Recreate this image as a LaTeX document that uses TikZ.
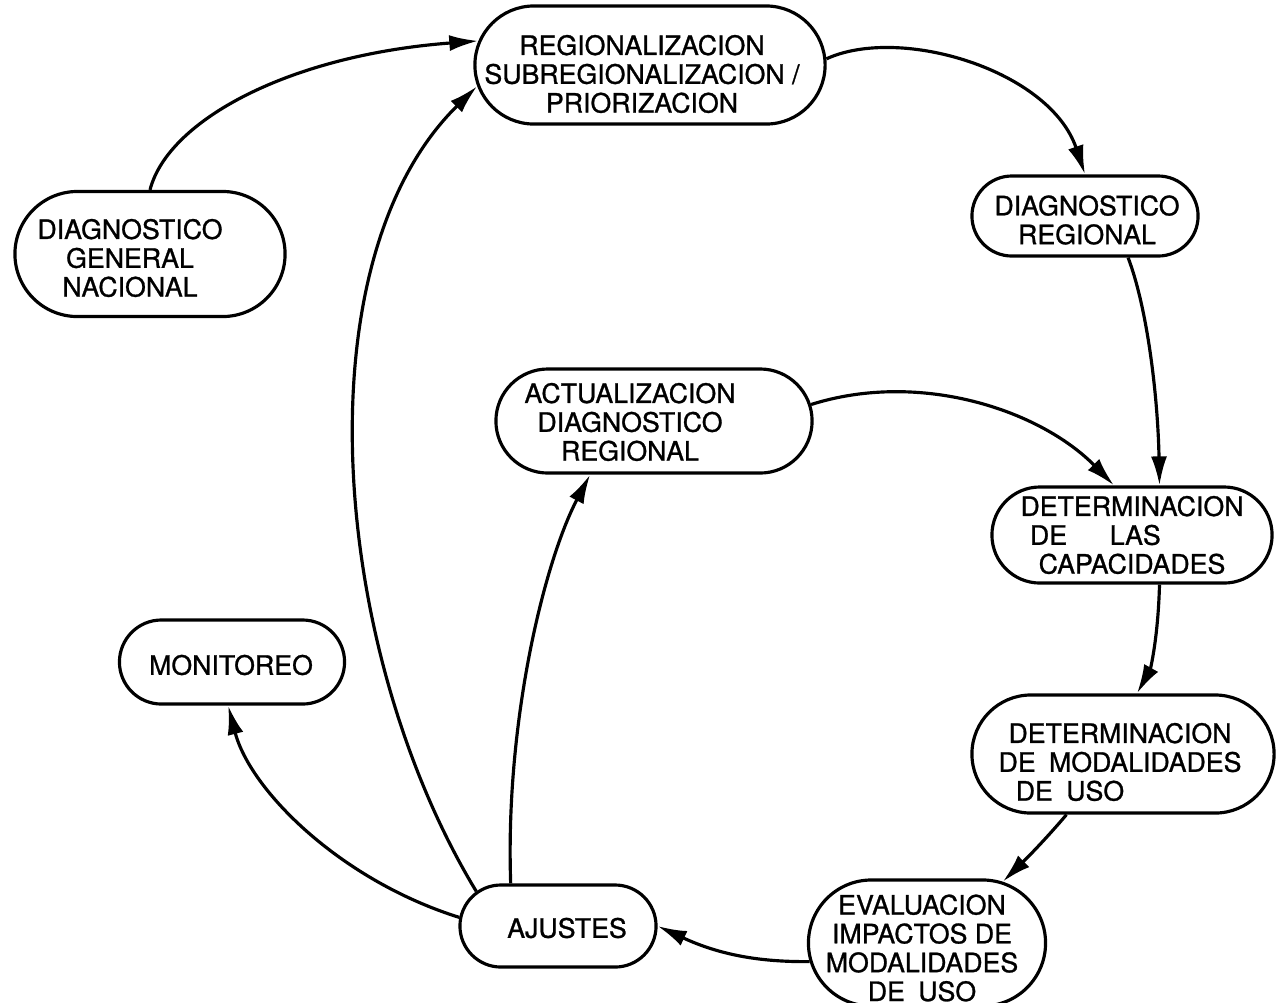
\documentclass[tikz,border=0pt]{standalone}
\usepackage{fontspec}
\newfontfamily\lett{TeX Gyre Heros}[FakeBold=1]
\usetikzlibrary{shapes.misc,arrows.meta}
\tikzset{
  box/.style={draw, line width=0.9pt, rounded rectangle, inner sep=0pt},
  lbl/.style={align=center, inner sep=0pt, font=\lett\fontsize{7.6}{8.2}\selectfont},
  conn/.style={line width=0.9pt, -{Latex[length=2.9mm,width=1.6mm]}}
}
\begin{document}
\begin{tikzpicture}[x=0.01cm,y=-0.01cm]
\useasboundingbox (0,0) rectangle (1276,1002);
% boxes
\node[box, minimum width=3.50cm, minimum height=1.18cm] (reg) at (650,65) {};
\node[box, minimum width=2.70cm, minimum height=1.25cm] (gen) at (150,254) {};
\node[box, minimum width=2.26cm, minimum height=0.80cm] (dreg) at (1085,216) {};
\node[box, minimum width=3.16cm, minimum height=1.04cm] (act) at (654,421) {};
\node[box, minimum width=2.80cm, minimum height=0.96cm] (cap) at (1132,535) {};
\node[box, minimum width=2.25cm, minimum height=0.84cm] (mon) at (232,662) {};
\node[box, minimum width=3.02cm, minimum height=1.18cm] (mod) at (1123,754) {};
\node[box, minimum width=1.96cm, minimum height=0.82cm] (aju) at (558,926) {};
\node[box, minimum width=2.37cm, minimum height=1.26cm] (eva) at (927,943) {};
% labels
\node[lbl] (regt) at (642,74) {REGIONALIZACION\\SUBREGIONALIZACION /\\PRIORIZACION};
\node[lbl] (gent) at (130,258) {DIAGNOSTICO\\GENERAL\\NACIONAL};
\node[lbl] (dregt) at (1087,220) {DIAGNOSTICO\\REGIONAL};
\node[lbl] (actt) at (630,422) {ACTUALIZACION\\DIAGNOSTICO\\REGIONAL};
\node[lbl] (capt) at (1132,535) {DETERMINACION\\\makebox[2.2cm][l]{\hspace{0.08cm}DE\hspace{1.6em}LAS}\\CAPACIDADES};
\node[lbl] (modt) at (1120,762) {DETERMINACION\\DE\enspace MODALIDADES\\DE\enspace USO\hspace*{1.0cm}};
\node[lbl] (mont) at (231,665) {MONITOREO};
\node[lbl] (ajut) at (567,928) {AJUSTES};
\node[lbl] (evat) at (922,948) {EVALUACION\\IMPACTOS DE\\MODALIDADES\\DE\enspace USO};
% connectors
\draw[conn] (gen.north) .. controls (168,120) and (290,55) .. (reg.172);
\draw[conn] (reg.2) .. controls (900,25) and (1050,70) .. (dreg.north);
\draw[conn] (dreg.-44) .. controls (1148,310) and (1158,400) .. (cap.61);
\draw[conn] (act.6) .. controls (920,370) and (1040,410) .. (cap.110);
\draw[conn] (cap.-61) .. controls (1158,640) and (1150,670) .. (mod.77);
\draw[conn] (mod.227) .. controls (1045,840) and (1025,860) .. (eva.39);
\draw[conn] (eva.189) .. controls (760,962) and (720,955) .. (aju.east);
\draw[conn] (aju.157) .. controls (330,650) and (300,260) .. (reg.187);
\draw[conn] (aju.138) .. controls (505,720) and (545,560) .. (act.220);
\draw[conn] (aju.175) .. controls (340,880) and (250,790) .. (mon.265);
\end{tikzpicture}
\end{document}
